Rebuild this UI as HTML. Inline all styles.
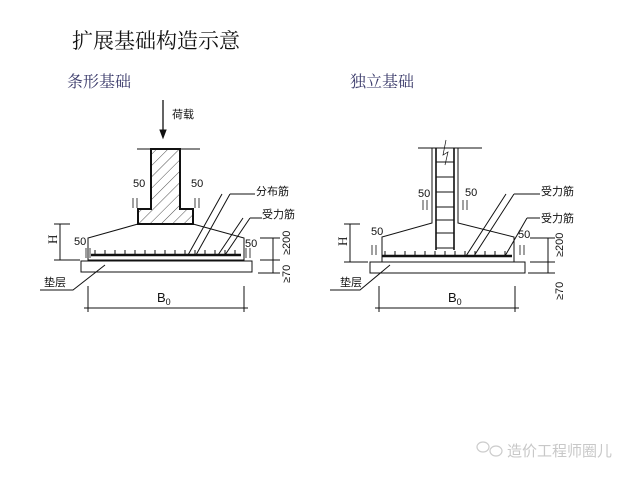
<!DOCTYPE html>
<html><head><meta charset="utf-8"><style>
html,body{margin:0;padding:0;background:#fff;width:640px;height:480px;overflow:hidden}
svg{display:block}
.s{font-family:"Liberation Sans","Noto Sans CJK SC",sans-serif;font-size:11px;fill:#111}
</style></head><body>
<svg width="640" height="480" viewBox="0 0 640 480" xmlns="http://www.w3.org/2000/svg">
<defs>
<pattern id="h" width="8" height="8" patternUnits="userSpaceOnUse" patternTransform="rotate(45)">
<line x1="0" y1="0" x2="0" y2="8" stroke="#222" stroke-width="0.8"/></pattern>
<pattern id="t" width="10" height="6" patternUnits="userSpaceOnUse">
<line x1="5" y1="0" x2="5" y2="6" stroke="#111" stroke-width="1"/></pattern>
</defs>
<text x="72" y="48" font-family="'Liberation Serif','Noto Serif CJK SC',serif" font-size="21" fill="#111">扩展基础构造示意</text>
<text x="67" y="87" font-family="'Liberation Serif','Noto Serif CJK SC',serif" font-size="16" fill="#3a3a6a">条形基础</text>
<text x="350" y="87" font-family="'Liberation Serif','Noto Serif CJK SC',serif" font-size="16" fill="#3a3a6a">独立基础</text>

<g stroke="#111" fill="none" stroke-width="1">
<!-- LEFT -->
<line x1="163" y1="100" x2="163" y2="135" stroke-width="1.3"/>
<polygon points="160,130 166,130 163,138" fill="#111"/>
<line x1="137" y1="149" x2="200" y2="149"/>
<path d="M151,149 V209 H138 V224 H193 V209 H180 V149 Z" fill="url(#h)" stroke-width="2"/>
<path d="M138,224 L88,238 V260 H244 V238 L193,224"/>
<rect x="81" y="261" width="171" height="11"/>
<line x1="91" y1="255" x2="241" y2="255" stroke-width="2.5"/>
<rect x="93" y="250" width="146" height="5" fill="url(#t)" stroke="none"/>
<line x1="60" y1="224" x2="60" y2="260"/><line x1="54" y1="224" x2="70" y2="224"/><line x1="54" y1="260" x2="80" y2="260"/>
<line x1="273" y1="238" x2="273" y2="273"/><line x1="260" y1="238" x2="280" y2="238"/><line x1="260" y1="260" x2="280" y2="260"/><line x1="258" y1="273" x2="280" y2="273"/>
<line x1="88" y1="286" x2="88" y2="312"/><line x1="244" y1="286" x2="244" y2="312"/><line x1="84" y1="308" x2="248" y2="308"/>
<path d="M40,290 H73 L105,265"/>
<path d="M230,194 H255 M230,194 L196,255 M222,194 L188,255"/>
<path d="M250,218 H262 M250,218 L225,255 M243,218 L218,255"/>
<path d="M133,198 V208 M137,198 V208 M195,198 V208 M199,198 V208 M86,248 V258 M90,248 V258 M246,248 V258 M250,248 V258" stroke-width="0.8"/>
<!-- RIGHT -->
<line x1="418" y1="148" x2="482" y2="148"/>
<path d="M432,148 V223 L382,237 V262 H514 V237 L458,223 V148"/>
<path d="M436,148 V250 M454,148 V250" stroke-width="1.6"/>
<path d="M436,162 H454 M436,177 H454 M436,192 H454 M436,207 H454 M436,220 H454 M436,233 H454 M436,248 H454"/>
<path d="M446,140 L443,155 L448,152 L445,165" stroke-width="0.7"/>
<rect x="370" y="262" width="155" height="11"/>
<line x1="382" y1="256" x2="512" y2="256" stroke-width="2.5"/>
<rect x="384" y="251" width="126" height="5" fill="url(#t)" stroke="none"/>
<line x1="350" y1="224" x2="350" y2="262"/><line x1="344" y1="224" x2="360" y2="224"/><line x1="344" y1="262" x2="368" y2="262"/>
<line x1="548" y1="238" x2="548" y2="273"/><line x1="530" y1="238" x2="555" y2="238"/><line x1="530" y1="262" x2="555" y2="262"/><line x1="528" y1="273" x2="555" y2="273"/>
<line x1="379" y1="286" x2="379" y2="312"/><line x1="515" y1="286" x2="515" y2="312"/><line x1="375" y1="308" x2="519" y2="308"/>
<path d="M330,290 H360 L390,265"/>
<path d="M514,194 H540 M514,194 L474,256 M506,194 L466,256"/>
<path d="M527,218 H540 M527,218 L505,256"/>
<path d="M423,200 V210 M427,200 V210 M463,200 V210 M467,200 V210 M372,245 V255 M376,245 V255 M520,245 V255 M524,245 V255" stroke-width="0.8"/>
</g>
<g class="s">
<text x="172" y="118">荷载</text>
<text x="133" y="187">50</text><text x="191" y="187">50</text>
<text x="74" y="245">50</text><text x="245" y="247">50</text>
<text x="256" y="195">分布筋</text><text x="262" y="218">受力筋</text>
<text x="44" y="286">垫层</text>
<text x="157" y="302" font-size="13">B<tspan font-size="9" dy="3">0</tspan></text>
<text transform="translate(57,244) rotate(-90)" font-family="'Liberation Serif',serif" font-size="13">H</text>
<text transform="translate(290,255) rotate(-90)">≥200</text>
<text transform="translate(290,283) rotate(-90)">≥70</text>
<text x="418" y="197">50</text><text x="465" y="196">50</text>
<text x="371" y="235">50</text><text x="518" y="238">50</text>
<text x="541" y="195">受力筋</text><text x="541" y="222">受力筋</text>
<text x="340" y="286">垫层</text>
<text x="448" y="302" font-size="13">B<tspan font-size="9" dy="3">0</tspan></text>
<text transform="translate(347,246) rotate(-90)" font-family="'Liberation Serif',serif" font-size="13">H</text>
<text transform="translate(563,257) rotate(-90)">≥200</text>
<text transform="translate(563,300) rotate(-90)">≥70</text>
</g>
<g stroke="#ccc" fill="none" stroke-width="1.2">
<ellipse cx="483" cy="447" rx="6" ry="5"/><ellipse cx="496" cy="451" rx="6" ry="5"/>
</g>
<text x="507" y="456" font-family="'Liberation Sans','Noto Sans CJK SC',sans-serif" font-size="15" fill="#c8c8c8">造价工程师圈儿</text>
</svg>
</body></html>
